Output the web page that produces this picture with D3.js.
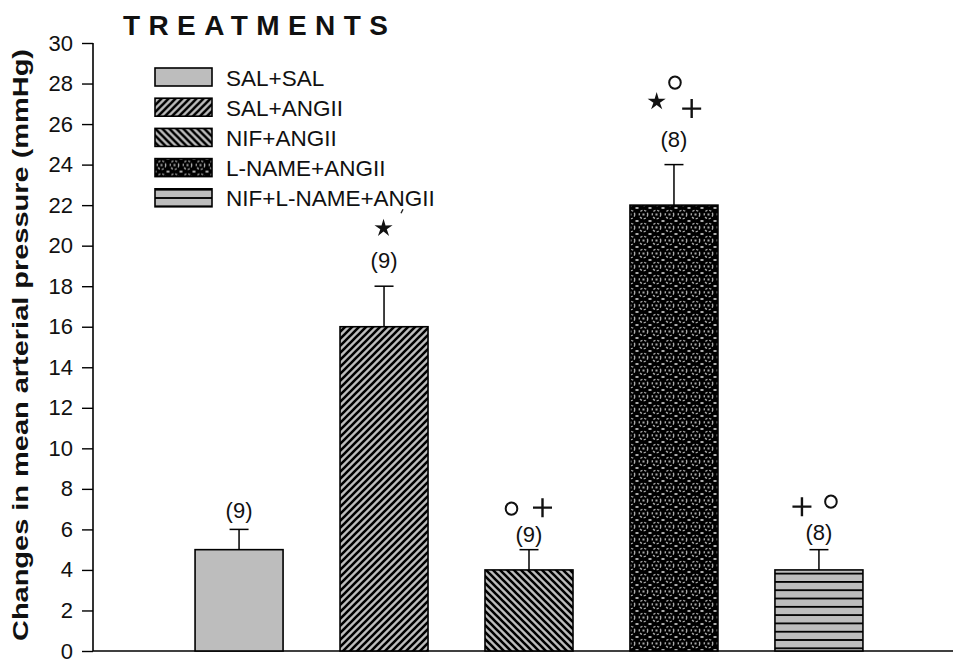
<!DOCTYPE html>
<html>
<head>
<meta charset="utf-8">
<script src="https://cdn.jsdelivr.net/npm/d3@7"></script>
<style>
  body { margin: 0; background: #fff; }
  svg { font-family: "Liberation Sans", Arial, sans-serif; }
</style>
</head>
<body>
<svg width="953" height="659"></svg>
<script>
// data
var treatments = ["SAL+SAL", "SAL+ANGII", "NIF+ANGII", "L-NAME+ANGII", "NIF+L-NAME+ANGII"];
var means = [5, 16, 4, 22, 4];
var errors = [1, 2, 1, 2, 1];
var nLabels = ["(9)", "(9)", "(9)", "(8)", "(8)"];
var signs = [[], ["*"], ["o", "+"], ["*", "o", "+"], ["+", "o"]];
var yTicks = [0, 2, 4, 6, 8, 10, 12, 14, 16, 18, 20, 22, 24, 26, 28, 30];

var svg = d3.select("svg");

// patterns
var defs = svg.append("defs");
var grey = "#bdbdbd";

var p1 = defs.append("pattern").attr("id", "fwd").attr("patternUnits", "userSpaceOnUse")
  .attr("width", 7).attr("height", 7);
p1.append("rect").attr("width", 7).attr("height", 7).attr("fill", grey);
p1.append("path").attr("d", "M-1,8 L8,-1 M-2,2 L2,-2 M5,9 L9,5").attr("stroke", "#000").attr("stroke-width", 2.6);

var p2 = defs.append("pattern").attr("id", "back").attr("patternUnits", "userSpaceOnUse")
  .attr("width", 7).attr("height", 7);
p2.append("rect").attr("width", 7).attr("height", 7).attr("fill", grey);
p2.append("path").attr("d", "M-1,-1 L8,8 M-2,5 L2,9 M5,-2 L9,2").attr("stroke", "#000").attr("stroke-width", 2.6);

var p3 = defs.append("pattern").attr("id", "dots").attr("patternUnits", "userSpaceOnUse")
  .attr("width", 13).attr("height", 13);
p3.append("rect").attr("width", 13).attr("height", 13).attr("fill", "#000");
p3.append("circle").attr("cx", 6.5).attr("cy", 6.5).attr("r", 4.2)
  .attr("fill", "none").attr("stroke", "#aaa").attr("stroke-width", 1.4).attr("stroke-dasharray", "2.2,1.8");
p3.append("rect").attr("x", 5.5).attr("y", 5.5).attr("width", 2).attr("height", 2).attr("fill", "#aaa");
p3.append("path").attr("d", "M0,0 h1.5 M11.5,0 h1.5 M0,13 h1.5 M11.5,13 h1.5").attr("stroke", "#aaa").attr("stroke-width", 2);

var p4 = defs.append("pattern").attr("id", "horiz").attr("patternUnits", "userSpaceOnUse")
  .attr("width", 8).attr("height", 8.3);
p4.append("rect").attr("width", 8).attr("height", 8.3).attr("fill", grey);
p4.append("rect").attr("y", 0).attr("width", 8).attr("height", 1.8).attr("fill", "#000");

var fills = [grey, "url(#fwd)", "url(#back)", "url(#dots)", "url(#horiz)"];

// scales
var y = d3.scaleLinear().domain([0, 30]).range([651, 43]);
var x = d3.scaleBand().domain(treatments).range([166.5, 891.5])
  .paddingInner(0.393).paddingOuter(0.197);

// y axis
var yAxis = svg.append("g").attr("transform", "translate(93,0)")
  .call(d3.axisLeft(y).tickValues(yTicks).tickSize(11).tickPadding(9));
yAxis.select(".domain").attr("stroke-width", 1.6).attr("d", "M0," + y(30) + "V" + y(0));
yAxis.selectAll(".tick line").attr("stroke-width", 1.4);
yAxis.selectAll("text").attr("font-size", 22).attr("fill", "#111")
  .attr("font-family", "Liberation Sans, Arial, sans-serif");

// x baseline
svg.append("line").attr("x1", 93).attr("x2", 953).attr("y1", y(0)).attr("y2", y(0))
  .attr("stroke", "#000").attr("stroke-width", 1.6);

svg.append("text")
  .attr("transform", "translate(28,641) rotate(-90)")
  .attr("text-anchor", "start")
  .attr("font-size", 22.5).attr("font-weight", "bold").attr("fill", "#111")
  .attr("textLength", 592).attr("lengthAdjust", "spacingAndGlyphs")
  .text("Changes in mean arterial pressure (mmHg)");

svg.append("text").attr("x", 123).attr("y", 35)
  .attr("font-size", 28).attr("font-weight", "bold").attr("letter-spacing", 8.4)
  .attr("fill", "#111")
  .text("TREATMENTS");

// error bars
treatments.forEach(function(t, i) {
  var cx = x(t) + x.bandwidth() / 2;
  svg.append("line").attr("x1", cx).attr("x2", cx)
    .attr("y1", y(means[i])).attr("y2", y(means[i] + errors[i]))
    .attr("stroke", "#000").attr("stroke-width", 1.5);
  svg.append("line").attr("x1", cx - 9.5).attr("x2", cx + 9.5)
    .attr("y1", y(means[i] + errors[i])).attr("y2", y(means[i] + errors[i]))
    .attr("stroke", "#000").attr("stroke-width", 1.5);
});

// bars
svg.selectAll(".bar")
  .data(treatments)
  .enter().append("rect")
    .attr("x", function(d) { return x(d); })
    .attr("y", function(d, i) { return y(means[i]); })
    .attr("width", x.bandwidth())
    .attr("height", function(d, i) { return y(0) - y(means[i]); })
    .attr("fill", function(d, i) { return fills[i]; })
    .attr("stroke", "#000").attr("stroke-width", 1.6);

// n labels (baseline gap above the cap differs per bar in the original)
var nGap = [11, 18, 8, 18, 10];
svg.selectAll(".n")
  .data(treatments)
  .enter().append("text")
    .attr("x", function(d) { return x(d) + x.bandwidth() / 2; })
    .attr("y", function(d, i) { return y(means[i] + errors[i]) - nGap[i]; })
    .attr("text-anchor", "middle")
    .attr("font-size", 22).attr("fill", "#111")
    .text(function(d, i) { return nLabels[i]; });

// significance marks, centres placed relative to the cap
var markPos = [[], [[-0.5, -58]], [[-17.5, -41], [13.5, -42]],
  [[-17.3, -63], [1, -82], [17.7, -56]], [[-17, -43], [12, -48]]];

function starPath(r) {
  var pts = [];
  for (var k = 0; k < 10; k++) {
    var a = -Math.PI / 2 + k * Math.PI / 5, rr = k % 2 ? r * 0.36 : r;
    pts.push([rr * Math.cos(a), rr * Math.sin(a)]);
  }
  return "M" + pts.join("L") + "Z";
}

treatments.forEach(function(t, i) {
  var cx = x(t) + x.bandwidth() / 2, cy = y(means[i] + errors[i]);
  signs[i].forEach(function(s, j) {
    var g = svg.append("g")
      .attr("transform", "translate(" + (cx + markPos[i][j][0]) + "," + (cy + markPos[i][j][1]) + ")");
    if (s == "*") {
      g.append("path").attr("d", starPath(9.5)).attr("fill", "#111");
    } else if (s == "o") {
      g.append("ellipse").attr("rx", 5.8).attr("ry", 6.2).attr("fill", "none")
        .attr("stroke", "#111").attr("stroke-width", 2);
    } else {
      g.append("path").attr("d", "M-9.5,0H9.5M0,-9.5V9.5").attr("stroke", "#111").attr("stroke-width", 2.4);
    }
  });
});
// stray tick beside the first star
var c1 = x(treatments[1]) + x.bandwidth() / 2;
svg.append("line").attr("x1", c1 + 17).attr("y1", y(18) - 73).attr("x2", c1 + 19).attr("y2", y(18) - 77)
  .attr("stroke", "#222").attr("stroke-width", 1.4);

// legend
var leg = svg.append("g").attr("transform", "translate(155,68)");
treatments.forEach(function(t, i) {
  var g = leg.append("g").attr("transform", "translate(0," + (i * 30.2) + ")");
  g.append("rect").attr("width", 57).attr("height", 18)
    .attr("fill", fills[i]).attr("stroke", "#000").attr("stroke-width", 1.6);
  g.append("text").attr("x", 71).attr("y", 17.5)
    .attr("font-size", 22.5).attr("fill", "#111").text(t);
});
</script>
</body>
</html>
